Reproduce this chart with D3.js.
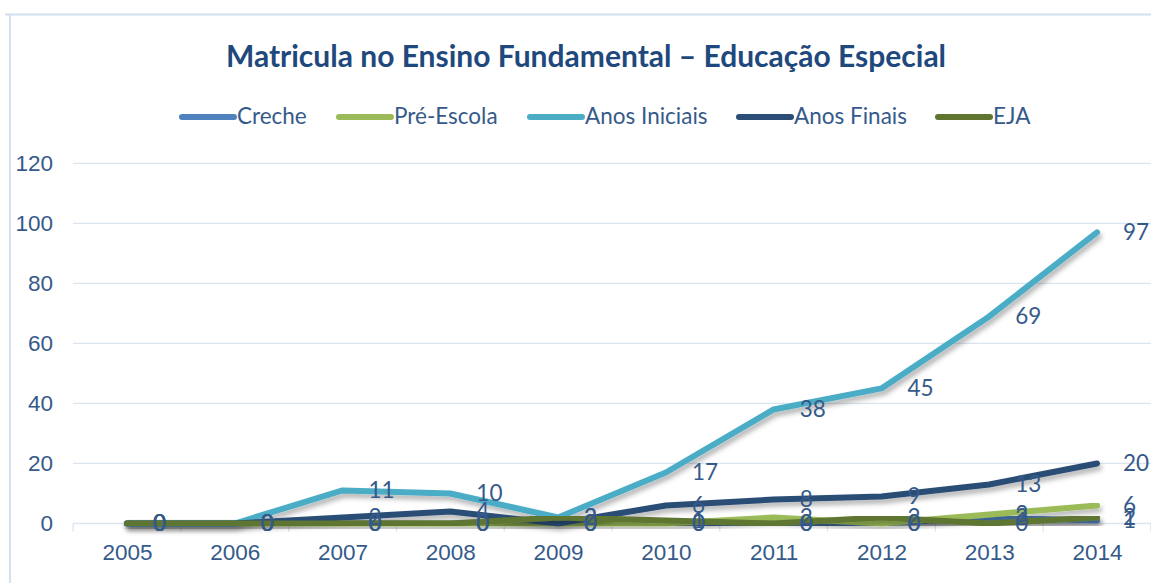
<!DOCTYPE html>
<html>
<head>
<meta charset="utf-8">
<script src="https://cdn.jsdelivr.net/npm/d3@7"></script>
<style>
  html, body { margin: 0; padding: 0; background: #fff; }
  svg { display: block; font-family: Lato, "Open Sans", sans-serif; }
</style>
</head>
<body>
<div id="chart"></div>
<script>
const years = ["2005", "2006", "2007", "2008", "2009", "2010", "2011", "2012", "2013", "2014"];
const creche       = [0, 0, 0, 0, 0, 0, 0, 0, 2, 1];
const preEscola    = [0, 0, 0, 0, 0, 0, 2, 0, 3, 6];
const anosIniciais = [0, 0, 11, 10, 2, 17, 38, 45, 69, 97];
const anosFinais   = [0, 0, 2, 4, 0, 6, 8, 9, 13, 20];
const eja          = [0, 0, 0, 0, 2, 1, 0, 2, 0, 2];
const yTicks = [0, 20, 40, 60, 80, 100, 120];

const series = [
  { name: "Creche", values: creche, color: "#4f81bd" },
  { name: "Pré-Escola", values: preEscola, color: "#9bbb59" },
  { name: "Anos Iniciais", values: anosIniciais, color: "#4bacc6" },
  { name: "Anos Finais", values: anosFinais, color: "#2c4d75" },
  { name: "EJA", values: eja, color: "#5f7530" }
];

const W = 1151, H = 583;
const TEXT = "#355a8a";
const GRID = "#dbe5f1";
const FS = "22.5px";

const svg = d3.select("#chart").append("svg")
  .attr("width", W).attr("height", H);

const defs = svg.append("defs");
defs.append("filter").attr("id", "shadow")
  .attr("x", "-10%").attr("y", "-10%").attr("width", "120%").attr("height", "140%")
  .append("feDropShadow")
  .attr("dx", 2).attr("dy", 4).attr("stdDeviation", 2.5)
  .attr("flood-color", "#000").attr("flood-opacity", 0.3);

// chart frame
svg.append("path")
  .attr("d", `M5,14.5 H${W} M10,14.5 V${H}`)
  .attr("fill", "none").attr("stroke", "#d3e0f0").attr("stroke-width", 2);

// title
svg.append("text")
  .attr("x", 586).attr("y", 67)
  .attr("text-anchor", "middle")
  .attr("font-size", "30px").attr("font-weight", 700)
  .attr("fill", "#1f497d")
  .text("Matricula no Ensino Fundamental – Educação Especial");

// scales
const x = d3.scalePoint().domain(years).range([127, 1097]);
const step = x.step();
const y = d3.scaleLinear().domain([0, 120]).range([523.5, 163.3]);

// grid
svg.append("g")
  .selectAll("line")
  .data(yTicks)
  .join("line")
  .attr("x1", 73).attr("x2", W)
  .attr("y1", d => y(d)).attr("y2", d => y(d))
  .attr("stroke", GRID).attr("stroke-width", 1.3);

// y axis labels
const yAxis = svg.append("g")
  .attr("transform", "translate(73,0)")
  .call(d3.axisLeft(y).tickValues(yTicks).tickSize(0).tickPadding(20));
yAxis.select(".domain").remove();
yAxis.selectAll("text")
  .attr("font-size", FS).attr("fill", TEXT).attr("font-family", null);

// x axis
const xAxis = svg.append("g")
  .attr("transform", `translate(0,${y(0)})`)
  .call(d3.axisBottom(x).tickSize(0).tickPadding(21));
xAxis.select(".domain").remove();
xAxis.selectAll("text")
  .attr("font-size", FS).attr("fill", TEXT).attr("font-family", null);

// category boundary ticks
svg.append("g")
  .selectAll("line")
  .data(d3.range(years.length + 1))
  .join("line")
  .attr("x1", i => x(years[0]) - step / 2 + i * step)
  .attr("x2", i => x(years[0]) - step / 2 + i * step)
  .attr("y1", y(0)).attr("y2", y(0) + 8)
  .attr("stroke", GRID).attr("stroke-width", 1.3);

// lines
const line = d3.line()
  .x((d, i) => x(years[i]))
  .y(d => y(d));

svg.append("g")
  .selectAll("path")
  .data(series)
  .join("path")
  .attr("d", s => line(s.values))
  .attr("fill", "none")
  .attr("stroke", s => s.color)
  .attr("stroke-width", 6)
  .attr("stroke-linejoin", "round")
  .attr("stroke-linecap", "round")
  .attr("filter", "url(#shadow)");

// data labels
const labels = svg.append("g");
series.forEach(s => {
  labels.selectAll(null)
    .data(s.values)
    .join("text")
    .attr("x", (d, i) => x(years[i]) + 26)
    .attr("y", d => y(d) + 2)
    .attr("dominant-baseline", "middle")
    .attr("font-size", FS)
    .attr("fill", TEXT)
    .text(d => d);
});

// legend
const legendX = [180, 337, 528, 737, 936];
const legend = svg.append("g");
series.forEach((s, i) => {
  const g = legend.append("g").attr("transform", `translate(${legendX[i]},117)`);
  g.append("line")
    .attr("x1", 2).attr("x2", 54)
    .attr("stroke", s.color).attr("stroke-width", 6)
    .attr("stroke-linecap", "round");
  g.append("text")
    .attr("x", 57).attr("y", 1)
    .attr("dominant-baseline", "middle")
    .attr("font-size", FS).attr("fill", TEXT)
    .text(s.name);
});
</script>
</body>
</html>
